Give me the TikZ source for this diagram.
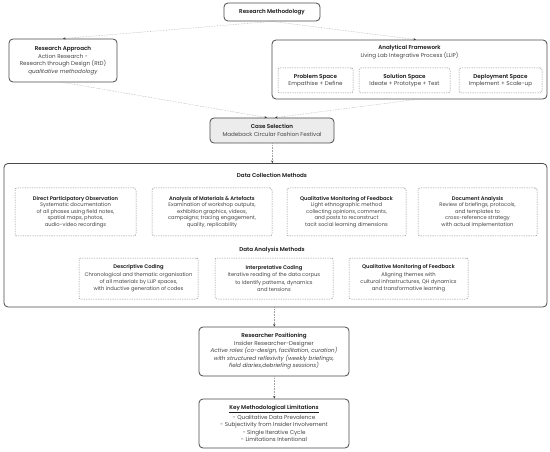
\documentclass[tikz,border=0pt]{standalone}
\usepackage{fontspec}
\setmainfont{Poppins}[BoldFont={Poppins SemiBold}]
\usetikzlibrary{arrows.meta}
\definecolor{bordc}{HTML}{4A4A4A}
\definecolor{dashc}{HTML}{8C8C8C}
\definecolor{connc}{HTML}{A0A0A0}
\definecolor{arrc}{HTML}{3A3A3A}
\definecolor{titc}{HTML}{1A1A1A}
\definecolor{bodc}{HTML}{444444}
\definecolor{csfill}{HTML}{ECECEC}
\newcommand{\topfont}{\fontsize{5.6}{7.5}\selectfont}
\newcommand{\rowafont}{\fontsize{5.2}{6.5}\selectfont}
\newcommand{\rowbfont}{\fontsize{5.2}{7.3}\selectfont}
\newcommand{\ttl}[1]{{\color{titc}\bfseries #1}}
\tikzset{
  solidbox/.style={draw=bordc, line width=0.8pt, rounded corners=4pt, fill=white, align=center, inner sep=0pt, text=bodc},
  dashbox/.style={draw=dashc, line width=0.5pt, dash pattern=on 1.3pt off 1.1pt, rounded corners=2pt, align=center, inner sep=0pt, text=bodc},
  conn/.style={draw=connc, line width=0.4pt, dash pattern=on 0.6pt off 1pt, -{Stealth[length=2.6pt,width=2.2pt,color=arrc]}},
  lbl/.style={align=center, inner sep=0pt, text=bodc}
}
\begin{document}
\begin{tikzpicture}[x=1pt,y=-1pt]
\useasboundingbox[fill=white] (0,0) rectangle (550,452);

% top
\node[solidbox, minimum width=96pt, minimum height=18pt, font=\topfont] (rm) at (272,12) {\ttl{Research Methodology}};

\node[solidbox, minimum width=108pt, minimum height=43pt, font=\topfont] (ra) at (63,60.5)
  {\ttl{Research Approach}\\Action Research -\\Research through Design (RtD)\\\textit{qualitative methodology}};

\node[solidbox, minimum width=275pt, minimum height=59pt] (af) at (409.5,69.5) {};
\node[lbl, font=\topfont] (aft) at (409.5,52) {\ttl{Analytical Framework}\\Living Lab Integrative Process (LLIP)};
\node[dashbox, minimum width=75pt, minimum height=25pt, font=\topfont] (ps) at (315.5,80.5) {\ttl{Problem Space}\\Empathise + Define};
\node[dashbox, minimum width=91pt, minimum height=25pt, font=\topfont] (ss) at (404.5,80.5) {\ttl{Solution Space}\\Ideate + Prototype + Test};
\node[dashbox, minimum width=83pt, minimum height=25pt, font=\topfont] (ds) at (500.5,80.5) {\ttl{Deployment Space}\\Implement + Scale-up};

\node[solidbox, fill=csfill, minimum width=124pt, minimum height=25pt, font=\topfont] (cs) at (272,130.5)
  {\ttl{Case Selection}\\Madeback Circular Fashion Festival};

% big box
\node[solidbox, minimum width=543pt, minimum height=143.5pt] (big) at (275.5,235.25) {};
\node[lbl, font=\topfont] (dct) at (272,175) {\ttl{Data Collection Methods}};
\node[dashbox, minimum width=121pt, minimum height=48pt, font=\rowafont] (dpo) at (75.5,212)
  {\ttl{Direct Participatory Observation}\\Systematic documentation\\of all phases using field notes,\\spatial maps, photos,\\audio-video recordings};
\node[dashbox, minimum width=120pt, minimum height=48pt, font=\rowafont] (ama) at (212,212)
  {\ttl{Analysis of Materials \& Artefacts}\\Examination of workshop outputs,\\exhibition graphics, videos,\\campaigns; tracing engagement,\\quality, replicability};
\node[dashbox, minimum width=119pt, minimum height=48pt, font=\rowafont] (qmf) at (346.5,212)
  {\ttl{Qualitative Monitoring of Feedback}\\Light ethnographic method\\collecting opinions, comments,\\and posts to reconstruct\\tacit social learning dimensions};
\node[dashbox, minimum width=119pt, minimum height=48pt, font=\rowafont] (doc) at (477.5,212)
  {\ttl{Document Analysis}\\Review of briefings, protocols,\\and templates to\\cross-reference strategy\\with actual implementation};

\node[lbl, font=\topfont] (dat) at (272,250) {\ttl{Data Analysis Methods}};
\node[dashbox, minimum width=119pt, minimum height=41pt, font=\rowbfont] (dcod) at (138.5,278.5)
  {\ttl{Descriptive Coding}\\Chronological and thematic organisation\\of all materials by LLIP spaces,\\with inductive generation of codes};
\node[dashbox, minimum width=118pt, minimum height=41pt, font=\rowbfont] (icod) at (274,278.5)
  {\ttl{Interpretative Coding}\\Iterative reading of the data corpus\\to identify patterns, dynamics\\and tensions};
\node[dashbox, minimum width=119pt, minimum height=41pt, font=\rowbfont] (qmf2) at (408.5,278.5)
  {\ttl{Qualitative Monitoring of Feedback}\\Aligning themes with\\cultural infrastructures, QH dynamics\\and transformative learning};

% bottom
\node[solidbox, minimum width=150pt, minimum height=49pt, font=\topfont] (rp) at (274,351.5)
  {\ttl{Researcher Positioning}\\Insider Researcher-Designer\\\textit{Active roles (co-design, facilitation, curation)}\\\textit{with structured reflexivity (weekly briefings,}\\\textit{field diaries,debriefing sessions)}};
\node[solidbox, minimum width=150pt, minimum height=49pt, font=\topfont] (kml) at (274,423.5)
  {\ttl{\underline{Key Methodological Limitations}}\\[0.6pt]- Qualitative Data Prevalence\\- Subjectivity from Insider Involvement\\- Single Iterative Cycle\\- Limitations Intentional};

% connectors
\draw[conn] (rm.south) -- (ra.north);
\draw[conn] (rm.south) -- ([xshift=6.5pt]af.north);
\draw[conn] (ra.south) -- ([xshift=-5pt]cs.north);
\draw[conn] ([xshift=7pt]af.south) -- ([xshift=3pt]cs.north);
\draw[conn] ([xshift=0.3pt]cs.south) -- ([xshift=0.3pt]cs.south |- big.north);
\draw[conn] ([xshift=0.3pt]big.south -| rp.north) -- ([xshift=0.3pt]rp.north);
\draw[conn] ([xshift=0.3pt]rp.south) -- ([xshift=0.3pt]kml.north);
\end{tikzpicture}
\end{document}
